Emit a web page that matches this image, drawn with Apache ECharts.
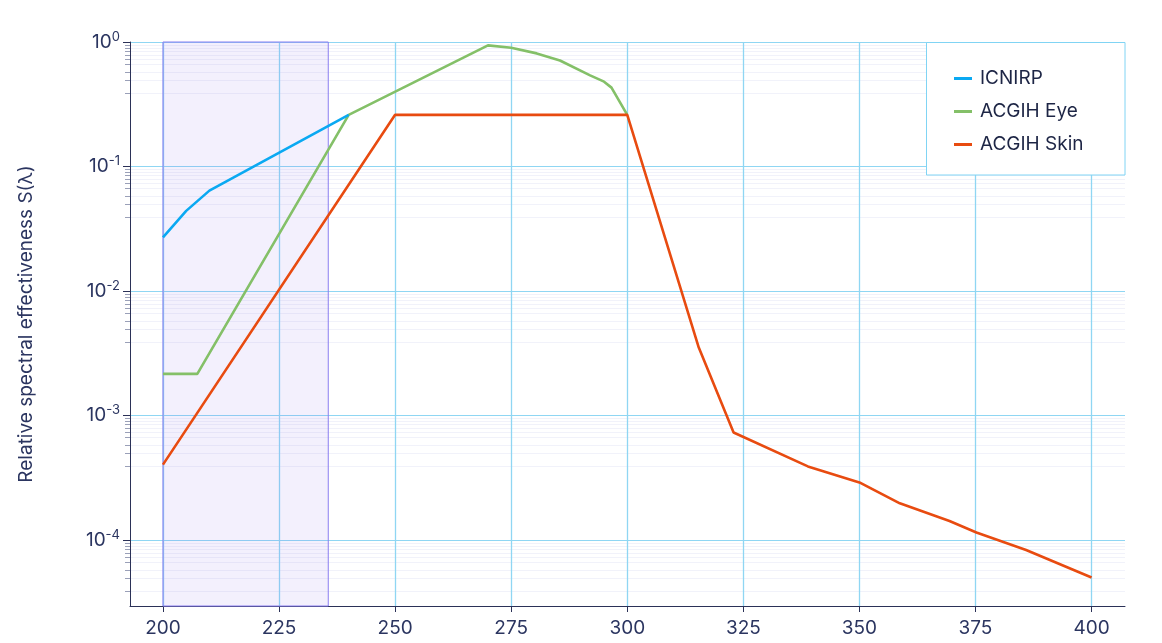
<!DOCTYPE html>
<html>
<head>
<meta charset="utf-8">
<script src="https://cdn.jsdelivr.net/npm/echarts@6/dist/echarts.min.js"></script>
<style>
html,body{margin:0;padding:0;background:#fff;}
#c{width:1162px;height:643px;}
</style>
</head>
<body>
<div id="c"></div>
<script>
// ---- data ----
var xTicks = [200, 225, 250, 275, 300, 325, 350, 375, 400];
var icnirpX = [200, 205, 210, 240];
var icnirpY = [0.027, 0.044, 0.064, 0.26];
var eyeX = [200, 207.4, 240, 270, 275, 280.5, 285.5, 292, 295, 296.6, 300];
var eyeY = [0.00216, 0.00216, 0.26, 0.94, 0.90, 0.81, 0.71, 0.54, 0.48, 0.43, 0.26];
var skinX = [200, 250, 300, 315.4, 322.9, 338.9, 350, 358.7, 369.4, 375.2, 385.9, 400];
var skinY = [0.000403, 0.26, 0.26, 0.00351, 0.00073, 0.00039, 0.00029, 0.000197, 0.000142, 0.000115, 0.000083, 0.00005];
var bandRange = [200, 235.6];
var decades = [1, 0.1, 0.01, 0.001, 0.0001];
var minorMult = [0.943, 0.898, 0.847, 0.789, 0.73, 0.668, 0.575, 0.496, 0.391];
var seriesNames = ['ICNIRP', 'ACGIH Eye', 'ACGIH Skin'];

function pairs(xs, ys) { return xs.map(function (x, i) { return [x, ys[i]]; }); }
var minorVals = [];
decades.forEach(function (d) { minorMult.forEach(function (m) { minorVals.push(d * m); }); });

var FONT = 'Inter, "Noto Sans", sans-serif';
var TXT = '#2b3560';
var GRIDC = '#8fd6f3';

var chart = echarts.init(document.getElementById('c'));
chart.setOption({
  animation: false,
  textStyle: { fontFamily: FONT },
  grid: { left: 130, right: 37, top: 42, bottom: 37, containLabel: false },
  xAxis: {
    type: 'value', min: 192.9, max: 407.2,
    axisLine: { show: true, lineStyle: { color: '#2b3157', width: 1 } },
    axisTick: { show: true, length: 6, customValues: xTicks, lineStyle: { color: '#2b3157' } },
    axisLabel: { customValues: xTicks, color: TXT, fontSize: 19, margin: 13, fontFamily: FONT },
    splitLine: { show: true, lineStyle: { color: GRIDC, width: 1.3 } }
  },
  yAxis: [{
    type: 'log', logBase: 10, min: 2.95e-5, max: 1,
    name: 'Relative spectral effectiveness S(λ)',
    nameLocation: 'middle', nameGap: 94, nameRotate: 90,
    nameTextStyle: { color: TXT, fontSize: 19, fontFamily: FONT },
    axisLine: { show: true, lineStyle: { color: '#2b3157', width: 1 } },
    axisTick: { show: true, length: 7, lineStyle: { color: '#2b3157' } },
    axisLabel: {
      color: TXT, fontSize: 19, margin: 10, showMinLabel: false, fontFamily: FONT,
      formatter: function (v) {
        var l = Math.log10(v), e = Math.round(l);
        if (Math.abs(l - e) > 1e-6) return '';
        return '10{sup|' + e + '}';
      },
      rich: { sup: { fontSize: 13, color: TXT, verticalAlign: 'top', padding: [0, 0, 10, 0], fontFamily: FONT } }
    },
    splitLine: { show: true, lineStyle: { color: GRIDC, width: 1 } }
  }, {
    type: 'log', logBase: 10, min: 2.95e-5, max: 1, position: 'left',
    axisLine: { show: false },
    axisTick: { show: true, inside: false, length: 5, customValues: minorVals, lineStyle: { color: '#9aa0b8' } },
    axisLabel: { show: false },
    splitLine: { show: true, lineStyle: { color: '#f1f2fa', width: 1 } }
  }],
  legend: {
    orient: 'vertical', left: 949, top: 63,
    data: seriesNames, icon: 'rect', itemWidth: 18, itemHeight: 3, itemGap: 12,
    textStyle: { color: '#1d2545', fontSize: 19, lineHeight: 21, padding: [0, 0, 0, 3], fontFamily: FONT }
  },
  graphic: [{
    type: 'rect', z: 3, silent: true,
    shape: { x: 926.5, y: 42.5, width: 198.5, height: 132.5 },
    style: { fill: '#ffffff', stroke: '#80d4f4', lineWidth: 1 }
  }],
  series: [{
    name: seriesNames[0], type: 'line', data: pairs(icnirpX, icnirpY), yAxisIndex: 0,
    symbol: 'none', lineStyle: { color: '#0aa9f2', width: 2.6 }, itemStyle: { color: '#0aa9f2' },
    markArea: {
      silent: true,
      itemStyle: { color: 'rgba(140,110,240,0.1)', borderColor: '#8a7ef0', borderWidth: 1 },
      data: [[{ xAxis: bandRange[0] }, { xAxis: bandRange[1] }]]
    },
    z: 5
  }, {
    name: seriesNames[1], type: 'line', data: pairs(eyeX, eyeY), yAxisIndex: 0,
    symbol: 'none', lineStyle: { color: '#84c068', width: 2.6 }, itemStyle: { color: '#84c068' }, z: 4
  }, {
    name: seriesNames[2], type: 'line', data: pairs(skinX, skinY), yAxisIndex: 0,
    symbol: 'none', lineStyle: { color: '#e84b10', width: 2.6 }, itemStyle: { color: '#e84b10' }, z: 5
  }]
});
</script>
</body>
</html>
